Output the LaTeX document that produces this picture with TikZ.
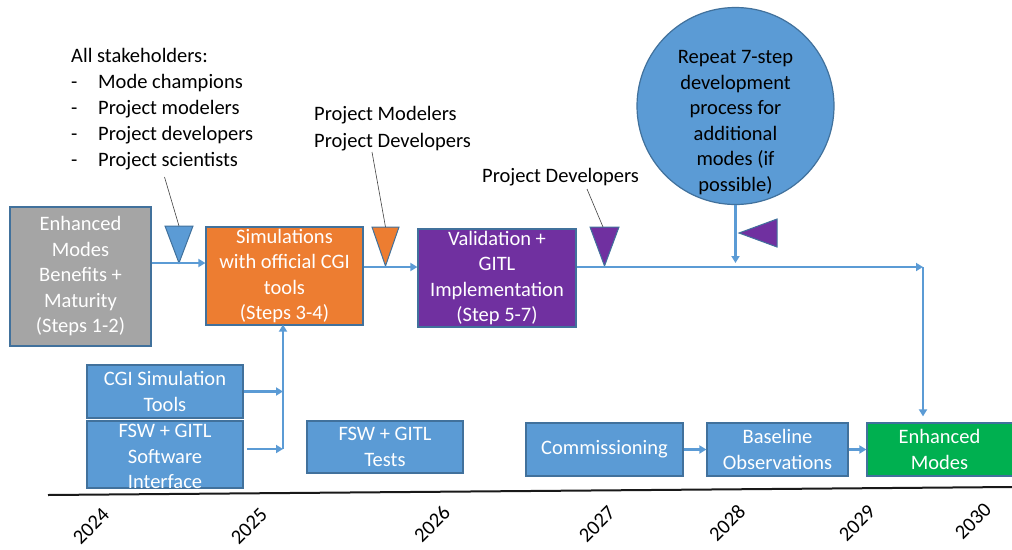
\documentclass[tikz,border=0pt]{standalone}
\usepackage{fontspec}
\setmainfont{Carlito}
\usetikzlibrary{arrows.meta}
\definecolor{accblue}{HTML}{5B9BD5}
\definecolor{edgeblue}{HTML}{41719C}
\definecolor{stepgray}{HTML}{A5A5A5}
\definecolor{steporange}{HTML}{ED7D31}
\definecolor{steppurple}{HTML}{7030A0}
\definecolor{stepgreen}{HTML}{00B050}

\begin{document}
\begin{tikzpicture}[x=1pt,y=-1pt,
  every node/.style={font=\fontsize{20.5}{25.5}\selectfont},
  blk/.style={draw=edgeblue, line width=1.2pt, inner sep=0pt},
  lbl/.style={text=white, align=center, inner sep=0pt},
  note/.style={text=black, align=left, inner sep=0pt},
  flow/.style={draw=accblue, line width=2.2pt, -{Triangle[length=7pt,width=8pt]}},
  leader/.style={draw=black!75, line width=0.6pt},
  marker/.style={draw=edgeblue, line width=1pt},
  year/.style={rotate=45, inner sep=0pt, text=black}
]
\useasboundingbox (0,0) rectangle (1012,549);

% process boxes
\node[blk, fill=stepgray,   minimum width=141pt, minimum height=139pt] (benefits)   at (80.5,276.5) {};
\node[blk, fill=steporange, minimum width=157pt, minimum height=98pt]  (sims)       at (284.5,276) {};
\node[blk, fill=steppurple, minimum width=158pt, minimum height=98pt]  (validation) at (497,278) {};
\node[blk, fill=accblue,    minimum width=156pt, minimum height=53pt]  (cgitools)   at (165,391.5) {};
\node[blk, fill=accblue,    minimum width=156pt, minimum height=67pt]  (fswif)      at (165,454.5) {};
\node[blk, fill=accblue,    minimum width=156pt, minimum height=52pt]  (fswtests)   at (385,447) {};
\node[blk, fill=accblue,    minimum width=157pt, minimum height=53pt]  (comm)       at (604.5,449.5) {};
\node[blk, fill=accblue,    minimum width=141pt, minimum height=53pt]  (baseline)   at (777.5,449.5) {};
\node[blk, fill=stepgreen,  minimum width=147pt, minimum height=53pt]  (enhanced)   at (940.5,449.5) {};

% box labels
\node[lbl] (benefitsT)   at (benefits)   {Enhanced\\Modes\\Benefits +\\Maturity\\(Steps 1-2)};
\node[lbl] (simsT)       at (sims)       {Simulations\\with official CGI\\tools\\(Steps 3-4)};
\node[lbl] (validationT) at (validation) {Validation +\\GITL\\Implementation\\(Step 5-7)};
\node[lbl] (cgitoolsT)   at (cgitools)   {CGI Simulation\\Tools};
\node[lbl] (fswifT)      at ([yshift=-2pt]fswif.center) {FSW + GITL\\Software\\Interface};
\node[lbl] (fswtestsT)   at (fswtests)   {FSW + GITL\\Tests};
\node[lbl] (commT)       at (comm)       {Commissioning};
\node[lbl] (baselineT)   at (baseline)   {Baseline\\Observations};
\node[lbl] (enhancedT)   at ([xshift=-1pt]enhanced.center) {Enhanced\\Modes};

% repeat bubble
\node[circle, draw=edgeblue, fill=accblue, line width=1.2pt, minimum size=197pt, inner sep=0pt] (repeat) at (735.5,106) {};
\node[note, align=center] (repeatT) at (735.5,122.5) {Repeat 7-step\\development\\process for\\additional\\modes (if\\possible)};

% milestone markers
\coordinate (m1) at (179,263);
\coordinate (m2) at (385.5,266);
\coordinate (m3) at (604.5,266);
\filldraw[marker, fill=accblue]    (165,226) -- (193,226) -- (m1) -- cycle;
\filldraw[marker, fill=steporange] (372,227) -- (399,227) -- (m2) -- cycle;
\filldraw[marker, fill=steppurple] (590,227) -- (619,227) -- (m3) -- cycle;
\coordinate (flag) at (739,233);
\filldraw[marker, fill=steppurple] (flag) -- (777,219) -- (777,247) -- cycle;

% stakeholder notes
\node[note, anchor=north west, font=\fontsize{20.5}{26}\selectfont] (allsh) at (71,48.5)
  {All stakeholders:\\
   \makebox[27pt][l]{-}Mode champions\\
   \makebox[27pt][l]{-}Project modelers\\
   \makebox[27pt][l]{-}Project developers\\
   \makebox[27pt][l]{-}Project scientists};
\node[note, anchor=north west, font=\fontsize{20.5}{27}\selectfont] (moddev) at (314,106.5)
  {Project Modelers\\Project Developers};
\node[note, anchor=base west] (dev) at (482,182) {Project Developers};

\coordinate (lead1) at (164.5,177);
\coordinate (lead2) at (372,152);
\coordinate (lead3) at (587,189);
\draw[leader] (lead1) -- (179,226);
\draw[leader] (lead2) -- (385.5,227);
\draw[leader] (lead3) -- (603,227);

% main flow
\coordinate (corner) at (923,267);
\draw[flow] (benefits.east |- m1) -- (sims.west |- m1);
\draw[flow] (sims.east |- corner) -- (validation.west |- corner);
\draw[flow] (validation.east |- corner) -- (corner);
\draw[flow, shorten >=6pt] (corner) -- (corner |- enhanced.north);
\draw[flow, shorten >=4pt] (repeat.south) -- (repeat.south |- corner);

% inputs to simulations
\coordinate (join) at (283,449);
\coordinate (fswout) at (247,449);
\draw[flow] (cgitools.east) -- (cgitools.east -| join);
\draw[flow] (fswout) -- (join);
\draw[flow, shorten >=-1pt] (join) -- (sims.south -| join);

% operations chain
\draw[flow] (comm.east) -- (baseline.west);
\draw[flow] (baseline.east) -- (enhanced.west);

% time axis
\coordinate (axisL) at (48,495);
\coordinate (axisR) at (1012,487);
\draw[line width=2pt, black!90] (axisL) -- (axisR);
\node[year] (y2024) at (91,526) {2024};
\node[year] (y2025) at (249,526) {2025};
\node[year] (y2026) at (432,524) {2026};
\node[year] (y2027) at (597,524) {2027};
\node[year] (y2028) at (727,523) {2028};
\node[year] (y2029) at (857,523) {2029};
\node[year] (y2030) at (973,521) {2030};
\end{tikzpicture}
\end{document}
